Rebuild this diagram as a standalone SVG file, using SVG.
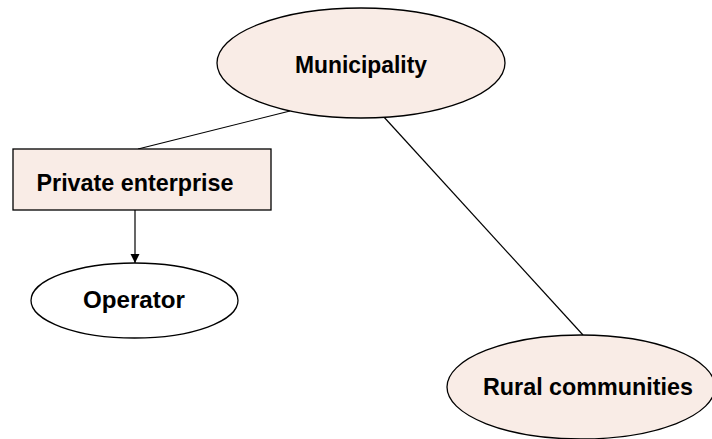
<svg xmlns="http://www.w3.org/2000/svg" width="712" height="439" viewBox="0 0 712 439">
<style>
.n{fill:#f9ece6;stroke:#000;stroke-width:1.3}
.w{fill:#fff;stroke:#000;stroke-width:1.3}
.t{font-family:"Liberation Sans",Arial,sans-serif;font-weight:bold;font-size:24px;fill:#000;text-anchor:middle}
.c{stroke:#000;stroke-width:1.2;fill:none}
</style>
<defs>
<marker id="ah" markerWidth="10" markerHeight="10" refX="9" refY="5" orient="auto" markerUnits="userSpaceOnUse">
<path d="M0,0.5 L9,5 L0,9.5 Z" fill="#000"/>
</marker>
</defs>
<g id="connectors">
<line class="c" x1="290" y1="111" x2="138" y2="149"/>
<line class="c" x1="383" y1="116" x2="583" y2="335"/>
<line class="c" x1="135" y1="210" x2="135" y2="263" marker-end="url(#ah)"/>
</g>
<g id="municipality">
<ellipse class="n" cx="361" cy="63" rx="144" ry="55"/>
<text class="t" x="361" y="73" textLength="132" lengthAdjust="spacingAndGlyphs">Municipality</text>
</g>
<g id="private-enterprise">
<rect class="n" x="13" y="149" width="258" height="61"/>
<text class="t" x="135" y="191" textLength="197" lengthAdjust="spacingAndGlyphs">Private enterprise</text>
</g>
<g id="operator">
<ellipse class="w" cx="134.5" cy="300.5" rx="103.5" ry="37.5"/>
<text class="t" x="134" y="308" textLength="102" lengthAdjust="spacingAndGlyphs">Operator</text>
</g>
<g id="rural-communities">
<ellipse class="n" cx="581" cy="387" rx="134" ry="52"/>
<text class="t" x="588" y="395" textLength="210" lengthAdjust="spacingAndGlyphs">Rural communities</text>
</g>
</svg>
